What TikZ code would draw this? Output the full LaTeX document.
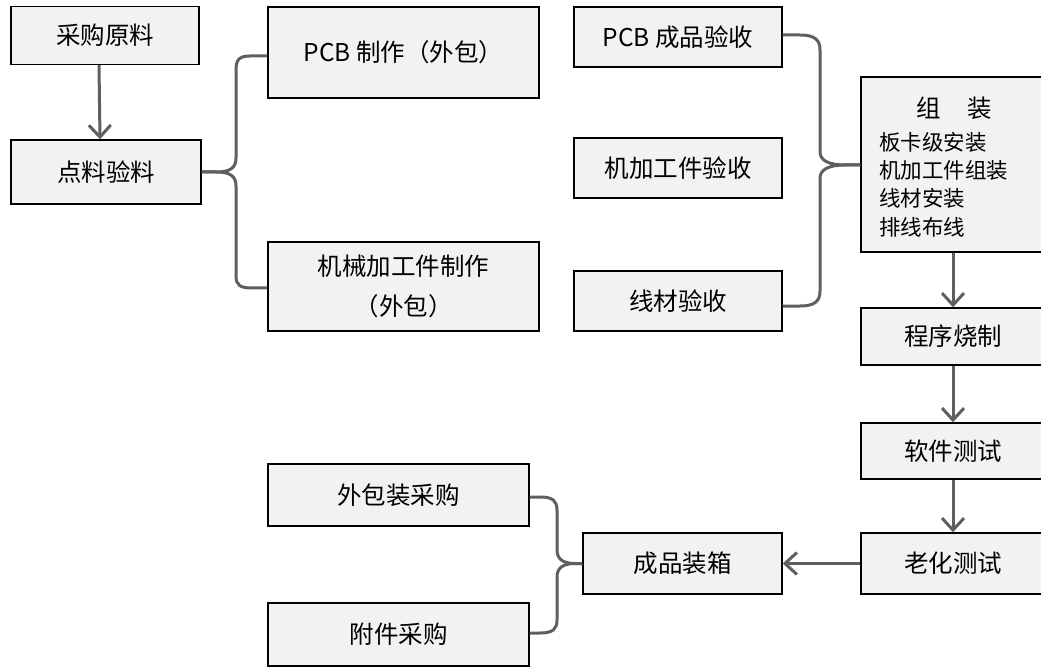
\documentclass[tikz,border=0pt]{standalone}
\usepackage{fontspec}
\setmainfont{Noto Sans CJK SC}
\usetikzlibrary{arrows.meta}
\definecolor{boxfill}{RGB}{242,242,242}
\definecolor{lineclr}{RGB}{95,95,95}
\tikzset{
  box/.style={draw=black, fill=boxfill, line width=1.4pt, inner sep=0pt,
    font=\fontsize{24.5}{40}\selectfont, align=center},
  conn/.style={draw=lineclr, line width=3pt},
  arr/.style={conn, -{Straight Barb[length=12pt,width=22pt]}},
}
\begin{document}
\begin{tikzpicture}[x=1pt,y=-1pt]
\useasboundingbox (0,0) rectangle (1041,668);
% boxes
\node[box, minimum width=188pt, minimum height=58pt] (cg) at (105,35.5) {采购原料};
\node[box, minimum width=190pt, minimum height=64pt] (dl) at (106,172) {点料验料};
\node[box, minimum width=271pt, minimum height=91pt] (pcb) at (403.5,52.5) {PCB 制作（外包）};
\node[box, minimum width=271pt, minimum height=89pt] (jx) at (403.5,286.5) {机械加工件制作\\（外包）};
\node[box, minimum width=208pt, minimum height=60pt] (pcbys) at (678,37) {PCB 成品验收};
\node[box, minimum width=208pt, minimum height=60pt] (jjys) at (678,168) {机加工件验收};
\node[box, minimum width=208pt, minimum height=60pt] (xcys) at (678,301) {线材验收};
\node[box, minimum width=184pt, minimum height=175pt] (zz) at (953,164.5) {};
\node[font=\fontsize{24.5}{30}\selectfont, inner sep=0pt] (zzh) at (954,108) {组\hspace{1.1em}装};
\node[font=\fontsize{21.5}{28.3}\selectfont, inner sep=0pt, align=left, anchor=west] (zzs) at (879,184.5) {板卡级安装\\机加工件组装\\线材安装\\排线布线};
\node[box, minimum width=184pt, minimum height=57pt] (cx) at (953,336.5) {程序烧制};
\node[box, minimum width=184pt, minimum height=56pt] (rj) at (953,451) {软件测试};
\node[box, minimum width=184pt, minimum height=61pt] (lh) at (953,563.5) {老化测试};
\node[box, minimum width=199pt, minimum height=61pt] (cp) at (682.5,563.5) {成品装箱};
\node[box, minimum width=261pt, minimum height=62pt] (wb) at (398.5,495) {外包装采购};
\node[box, minimum width=261pt, minimum height=63pt] (fj) at (398.5,634.5) {附件采购};
% arrows
\draw[arr] ([xshift=-6pt]cg.south) -- ([xshift=-6pt]dl.north);
\draw[arr] (zz.south) -- (cx.north);
\draw[arr] (cx.south) -- (rj.north);
\draw[arr] (rj.south) -- (lh.north);
\draw[arr] (lh.west) -- (cp.east);
% left brace
\draw[conn] (pcb.west |- 0,56) -- (250,56) .. controls (239,56) and (236,60) .. (236,70) -- (236,158)
  .. controls (236,168) and (230,172) .. (216,172) -- (dl.east);
\draw[conn] (dl.east) -- (216,172) .. controls (230,172) and (236,176) .. (236,186) -- (236,276)
  .. controls (236,285) and (240,288) .. (252,288) -- (jx.west |- 0,288);
% middle brace
\draw[conn] (pcbys.east |- 0,35) -- (800,35) .. controls (815,35) and (820,40) .. (820,50) -- (820,152)
  .. controls (820,160) and (828,165) .. (845,165) -- (zz.west |- 0,165);
\draw[conn] (xcys.east |- 0,306) -- (800,306) .. controls (815,306) and (820,301) .. (820,291) -- (820,178)
  .. controls (820,170) and (828,165) .. (845,165) -- (zz.west |- 0,165);
% lower brace
\draw[conn] (wb.east |- 0,497) -- (540,497) .. controls (553,497) and (557,501) .. (557,510) -- (557,550)
  .. controls (557,559) and (563,563.5) .. (575,563.5) -- (cp.west);
\draw[conn] (fj.east |- 0,633) -- (540,633) .. controls (553,633) and (557,629) .. (557,620) -- (557,577)
  .. controls (557,568) and (563,563.5) .. (575,563.5) -- (cp.west);
\end{tikzpicture}
\end{document}
